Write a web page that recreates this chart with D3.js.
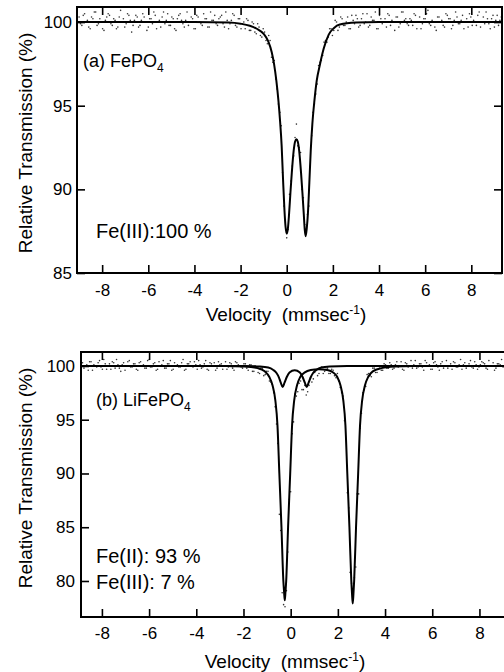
<!DOCTYPE html>
<html>
<head>
<meta charset="utf-8">
<script src="https://cdn.jsdelivr.net/npm/d3@7"></script>
<style>
  body { margin: 0; background: #fff; }
  svg { display: block; }
</style>
</head>
<body>
<script>
const FONT = '"Liberation Sans", Arial, sans-serif';

const X_TICKS = [-8, -6, -4, -2, 0, 2, 4, 6, 8];
const Y_TICKS_A = [85, 90, 95, 100];
const Y_TICKS_B = [80, 85, 90, 95, 100];

// velocity channels (mm/s) of the first sweep, shared by both spectra
const VELOCITY = [
  -9.00, -8.88, -8.76, -8.64, -8.52, -8.40, -8.28, -8.16, -8.04, -7.92,
  -7.80, -7.68, -7.56, -7.44, -7.32, -7.20, -7.08, -6.96, -6.84, -6.72,
  -6.60, -6.48, -6.36, -6.24, -6.12, -6.00, -5.88, -5.76, -5.64, -5.52,
  -5.40, -5.28, -5.16, -5.04, -4.92, -4.80, -4.68, -4.56, -4.44, -4.32,
  -4.20, -4.08, -3.96, -3.84, -3.72, -3.60, -3.48, -3.36, -3.24, -3.12,
  -3.00, -2.88, -2.76, -2.64, -2.52, -2.40, -2.28, -2.16, -2.04, -1.92,
  -1.80, -1.68, -1.56, -1.44, -1.32, -1.20, -1.08, -0.96, -0.84, -0.72,
  -0.60, -0.48, -0.36, -0.24, -0.12, 0.00, 0.12, 0.24, 0.36, 0.48,
  0.60, 0.72, 0.84, 0.96, 1.08, 1.20, 1.32, 1.44, 1.56, 1.68,
  1.80, 1.92, 2.04, 2.16, 2.28, 2.40, 2.52, 2.64, 2.76, 2.88,
  3.00, 3.12, 3.24, 3.36, 3.48, 3.60, 3.72, 3.84, 3.96, 4.08,
  4.20, 4.32, 4.44, 4.56, 4.68, 4.80, 4.92, 5.04, 5.16, 5.28,
  5.40, 5.52, 5.64, 5.76, 5.88, 6.00, 6.12, 6.24, 6.36, 6.48,
  6.60, 6.72, 6.84, 6.96, 7.08, 7.20, 7.32, 7.44, 7.56, 7.68,
  7.80, 7.92, 8.04, 8.16, 8.28, 8.40, 8.52, 8.64, 8.76, 8.88,
  9.00, 9.12, 9.24, 9.36
];

// velocity channels (mm/s) of the second sweep
const VELOCITY_2 = [
  -8.94, -8.82, -8.70, -8.58, -8.46, -8.34, -8.22, -8.10, -7.98, -7.86,
  -7.74, -7.62, -7.50, -7.38, -7.26, -7.14, -7.02, -6.90, -6.78, -6.66,
  -6.54, -6.42, -6.30, -6.18, -6.06, -5.94, -5.82, -5.70, -5.58, -5.46,
  -5.34, -5.22, -5.10, -4.98, -4.86, -4.74, -4.62, -4.50, -4.38, -4.26,
  -4.14, -4.02, -3.90, -3.78, -3.66, -3.54, -3.42, -3.30, -3.18, -3.06,
  -2.94, -2.82, -2.70, -2.58, -2.46, -2.34, -2.22, -2.10, -1.98, -1.86,
  -1.74, -1.62, -1.50, -1.38, -1.26, -1.14, -1.02, -0.90, -0.78, -0.66,
  -0.54, -0.42, -0.30, -0.18, -0.06, 0.06, 0.18, 0.30, 0.42, 0.54,
  0.66, 0.78, 0.90, 1.02, 1.14, 1.26, 1.38, 1.50, 1.62, 1.74,
  1.86, 1.98, 2.10, 2.22, 2.34, 2.46, 2.58, 2.70, 2.82, 2.94,
  3.06, 3.18, 3.30, 3.42, 3.54, 3.66, 3.78, 3.90, 4.02, 4.14,
  4.26, 4.38, 4.50, 4.62, 4.74, 4.86, 4.98, 5.10, 5.22, 5.34,
  5.46, 5.58, 5.70, 5.82, 5.94, 6.06, 6.18, 6.30, 6.42, 6.54,
  6.66, 6.78, 6.90, 7.02, 7.14, 7.26, 7.38, 7.50, 7.62, 7.74,
  7.86, 7.98, 8.10, 8.22, 8.34, 8.46, 8.58, 8.70, 8.82, 8.94,
  9.06, 9.18, 9.30, 9.42
];

// measured transmission (%), FePO4
const FEPO4_T = [
  100.3, 99.8, 100.5, 100.1, 99.6, 100.2, 100.6, 99.9, 100.0, 99.5,
  100.3, 100.4, 99.8, 100.1, 99.7, 100.7, 100.2, 99.9, 100.4, 99.4,
  100.1, 100.3, 99.8, 100.5, 100.0, 99.7, 100.2, 100.6, 99.6, 100.1,
  100.3, 99.9, 100.5, 99.8, 100.2, 99.5, 100.4, 100.1, 99.7, 100.6,
  100.0, 100.2, 99.6, 100.3, 99.9, 100.5, 100.2, 99.7, 100.1, 100.4,
  99.8, 100.3, 99.9, 100.6, 99.6, 100.1, 100.4, 99.7, 100.2, 99.9,
  99.6, 100.1, 99.5, 99.9, 99.3, 99.7, 99.1, 99.4, 98.7, 98.9,
  97.6, 96.6, 95.1, 93.8, 89.0, 87.1, 89.7, 91.4, 93.1, 92.6,
  92.2, 89.5, 87.5, 89.0, 93.2, 95.1, 96.3, 97.6, 98.0, 98.9,
  99.1, 99.6, 99.5, 100.0, 99.7, 100.2, 99.8, 100.3, 99.6, 100.1,
  100.4, 99.7, 100.2, 99.9, 100.5, 99.8, 100.1, 100.6, 99.6, 100.2,
  100.0, 99.7, 100.4, 100.1, 99.5, 100.3, 99.9, 100.6, 100.2, 99.8,
  100.1, 100.5, 99.6, 100.3, 99.9, 100.2, 100.7, 99.8, 100.0, 99.5,
  100.3, 100.1, 99.7, 100.4, 100.2, 99.8, 100.6, 99.9, 100.1, 99.6,
  100.2, 100.5, 99.8, 100.0, 100.4, 99.7, 100.3, 100.6, 99.9, 100.2,
  99.7, 100.4, 100.1, 99.8
];
const FEPO4_T2 = [
  99.9, 100.4, 100.0, 99.7, 100.3, 100.6, 99.8, 100.2, 99.6, 100.1,
  100.5, 99.9, 100.2, 99.6, 100.3, 100.0, 99.7, 100.5, 100.1, 99.8,
  100.4, 99.7, 100.1, 100.3, 99.5, 100.2, 99.9, 100.4, 100.0, 99.7,
  100.6, 100.1, 99.8, 100.3, 99.6, 100.2, 100.5, 99.9, 100.1, 99.8,
  100.3, 99.6, 100.4, 100.0, 99.8, 100.2, 99.7, 100.6, 100.1, 99.9,
  100.2, 100.4, 99.7, 100.1, 99.9, 100.5, 99.8, 100.2, 99.6, 100.0,
  100.2, 99.5, 100.0, 99.4, 99.9, 99.2, 99.6, 98.9, 99.2, 97.9,
  97.7, 96.0, 94.6, 91.0, 88.2, 87.6, 90.5, 92.0, 93.9, 92.5,
  90.0, 87.9, 88.5, 91.4, 94.6, 95.7, 97.4, 97.7, 98.8, 98.8,
  99.6, 99.2, 100.1, 99.5, 100.3, 99.8, 100.0, 99.6, 100.4, 99.9,
  100.2, 99.8, 100.5, 100.0, 99.7, 100.3, 100.1, 99.6, 100.4, 99.9,
  100.2, 100.5, 99.8, 100.0, 100.3, 99.7, 100.6, 100.1, 99.9, 100.2,
  99.8, 100.4, 100.0, 99.6, 100.2, 100.5, 99.9, 100.1, 99.7, 100.3,
  100.0, 99.8, 100.5, 100.2, 99.6, 100.1, 100.3, 99.9, 100.4, 100.0,
  99.7, 100.3, 100.1, 99.8, 100.6, 100.0, 99.9, 100.2, 99.6, 100.4,
  100.1, 99.8, 100.3, 100.0
];

// measured transmission (%), LiFePO4
const LIFEPO4_T = [
  100.2, 100.5, 99.8, 100.1, 100.4, 99.6, 100.0, 100.3, 99.9, 100.6,
  99.7, 100.2, 100.4, 99.8, 100.1, 99.5, 100.3, 100.0, 100.5, 99.9,
  100.2, 99.6, 100.4, 100.1, 99.8, 100.6, 99.9, 100.3, 99.7, 100.0,
  100.5, 99.8, 100.2, 99.6, 100.3, 100.1, 99.9, 100.6, 99.7, 100.2,
  100.0, 100.4, 99.7, 100.1, 99.9, 100.5, 99.6, 100.2, 100.3, 99.8,
  100.1, 99.7, 100.4, 99.9, 100.2, 99.6, 100.3, 100.0, 99.8, 100.2,
  99.6, 100.1, 99.5, 99.9, 99.3, 99.8, 99.2, 99.5, 98.5, 97.5,
  94.6, 86.2, 78.9, 77.6, 82.7, 88.3, 94.8, 97.2, 98.4, 97.8,
  98.2, 97.6, 98.9, 98.8, 99.6, 99.3, 99.9, 99.5, 99.8, 99.3,
  99.6, 98.9, 98.6, 97.5, 94.9, 88.2, 80.8, 78.3, 81.3, 88.1,
  95.6, 97.8, 99.2, 99.1, 99.8, 99.4, 100.0, 99.6, 100.2, 99.8,
  100.3, 99.7, 100.1, 99.9, 100.4, 99.6, 100.2, 100.0, 99.8, 100.5,
  99.9, 100.2, 99.6, 100.3, 100.1, 99.7, 100.4, 99.9, 100.2, 99.8,
  100.5, 100.0, 99.7, 100.3, 99.9, 100.6, 100.1, 99.8, 100.2, 99.9,
  100.4, 99.7, 100.1, 100.3, 99.8, 100.5, 100.0, 99.6, 100.2, 100.1,
  99.9, 100.3, 100.0, 99.7
];
const LIFEPO4_T2 = [
  99.8, 100.3, 100.0, 99.6, 100.4, 100.1, 99.9, 100.5, 99.7, 100.2,
  100.0, 99.7, 100.3, 100.6, 99.8, 100.1, 99.6, 100.4, 99.9, 100.2,
  99.7, 100.3, 100.0, 99.8, 100.5, 99.9, 100.2, 99.6, 100.4, 100.1,
  99.8, 100.2, 100.5, 99.7, 100.0, 99.9, 100.3, 99.6, 100.2, 100.4,
  99.9, 100.1, 100.5, 99.8, 100.2, 99.7, 100.3, 100.0, 99.6, 100.4,
  100.2, 100.0, 99.7, 100.3, 99.8, 100.4, 100.1, 99.9, 100.2, 99.8,
  100.1, 99.5, 100.0, 99.4, 99.8, 99.1, 99.5, 98.6, 98.3, 96.2,
  92.8, 84.7, 77.8, 79.1, 87.6, 93.7, 97.4, 97.6, 98.6, 97.8,
  97.3, 98.2, 98.5, 99.4, 99.1, 99.8, 99.3, 99.7, 99.3, 99.7,
  99.1, 99.3, 98.0, 97.2, 93.2, 86.8, 79.8, 80.3, 88.1, 94.2,
  97.5, 98.1, 99.3, 99.0, 99.8, 99.4, 99.9, 99.6, 100.1, 99.8,
  100.1, 99.8, 100.4, 100.0, 99.7, 100.3, 99.9, 100.5, 100.1, 99.8,
  100.2, 99.9, 100.5, 100.0, 99.7, 100.3, 100.1, 99.6, 100.4, 100.0,
  99.8, 100.2, 100.4, 99.9, 100.1, 99.7, 100.3, 100.0, 100.5, 99.8,
  100.1, 99.9, 100.4, 100.2, 99.7, 100.0, 100.3, 99.8, 100.2, 100.6,
  99.9, 100.2, 99.7, 100.1
];

// fitted Fe(III) doublet of FePO4
const FEPO4_FIT_V = [-9.1, -4, -2.5, -2.0, -1.6, -1.3, -1.0, -0.8, -0.65, -0.55, -0.45, -0.36, -0.29, -0.22, -0.16, -0.1, -0.05, 0,
  0.05, 0.1, 0.16, 0.22, 0.3, 0.36, 0.42, 0.48, 0.54, 0.62, 0.68, 0.74, 0.78, 0.82, 0.87, 0.92, 0.98, 1.04, 1.11,
  1.2, 1.3, 1.43, 1.6, 1.82, 2.05, 2.3, 3, 4, 9.4];
const FEPO4_FIT_T = [100, 100, 99.97, 99.9, 99.78, 99.6, 99.3, 98.85, 98.2, 97.5, 96.5, 95.3, 94.1, 92.6, 90.6, 88.8, 87.75, 87.35,
  87.65, 88.5, 89.8, 91.0, 92.3, 92.85, 93.0, 92.85, 92.3, 91.0, 89.8, 88.5, 87.6, 87.2, 87.7, 88.6, 90.4, 92.3, 93.9,
  95.3, 96.5, 97.4, 98.4, 99.25, 99.65, 99.85, 99.97, 100, 100];

// fitted Fe(II) doublet of LiFePO4
const LIFEPO4_FE2_V = [-8.9, -3, -2.5, -1.95, -1.4, -1.1, -0.91, -0.77, -0.65, -0.56, -0.48, -0.39, -0.31, -0.28, -0.25,
  -0.22, -0.19, -0.11, -0.02, 0.06, 0.15, 0.27, 0.41, 0.6, 0.85, 1.19, 1.55, 1.8, 1.97, 2.11, 2.23, 2.32, 2.40,
  2.49, 2.57, 2.60, 2.63, 2.66, 2.69, 2.77, 2.86, 2.94, 3.03, 3.15, 3.29, 3.48, 3.85, 4.4, 5.2, 9.5];
const LIFEPO4_FE2_T = [100, 100, 99.98, 99.95, 99.8, 99.5, 99.0, 98.2, 96.8, 94.5, 90, 85, 80, 79.0, 78.2,
  79.0, 80, 85, 90, 94.5, 96.8, 98.2, 99.0, 99.4, 99.62, 99.7, 99.62, 99.4, 99.0, 98.2, 96.8, 94.5, 90,
  85, 80, 78.8, 77.9, 78.8, 80, 85, 90, 94.5, 96.8, 98.2, 99.0, 99.5, 99.8, 99.95, 100, 100];

// fitted Fe(III) doublet of LiFePO4
const LIFEPO4_FE3_V = [-8.9, -2, -1.3, -0.95, -0.75, -0.6, -0.5, -0.42, -0.34, -0.26, -0.17, -0.05, 0.17, 0.39, 0.51,
  0.6, 0.68, 0.76, 0.85, 0.95, 1.1, 1.3, 1.65, 2.4, 9.5];
const LIFEPO4_FE3_T = [100, 100, 99.95, 99.85, 99.65, 99.35, 98.95, 98.45, 98.05, 98.45, 98.95, 99.4, 99.6, 99.4, 98.95,
  98.45, 98.05, 98.45, 98.95, 99.35, 99.65, 99.85, 99.95, 100, 100];

const svg = d3.select('body').append('svg')
    .attr('width', 504)
    .attr('height', 672);

function renderPanel(cfg, id) {
  const x = d3.scaleLinear().domain(cfg.xDomain).range([cfg.left, cfg.right]);
  const y = d3.scaleLinear().domain(cfg.yDomain).range([cfg.bottom, cfg.top]);
  const g = svg.append('g');

  g.append('clipPath')
      .attr('id', id)
    .append('rect')
      .attr('x', cfg.left)
      .attr('y', cfg.top)
      .attr('width', cfg.right - cfg.left)
      .attr('height', cfg.bottom - cfg.top);

  const plot = g.append('g').attr('clip-path', `url(#${id})`);

  // measured points (two sweeps)
  const points = d3.zip(VELOCITY, cfg.counts).concat(d3.zip(VELOCITY_2, cfg.counts2));
  plot.append('g')
      .attr('fill', '#333')
    .selectAll('circle')
    .data(points)
    .enter().append('circle')
      .attr('cx', d => x(d[0]))
      .attr('cy', d => y(d[1]))
      .attr('r', 0.8);

  // fitted sub-spectra
  const line = d3.line()
      .x(d => x(d[0]))
      .y(d => y(d[1]))
      .curve(d3.curveMonotoneX);

  cfg.fits.forEach(f => {
    plot.append('path')
        .datum(d3.zip(f[0], f[1]))
        .attr('fill', 'none')
        .attr('stroke', '#000')
        .attr('stroke-width', 2)
        .attr('d', line);
  });

  const styleAxis = a => {
    a.select('.domain').remove();
    a.attr('font-family', FONT).attr('font-size', 17);
    a.selectAll('.tick line').attr('stroke-width', 1.6);
  };

  g.append('g')
      .attr('transform', `translate(0,${cfg.bottom})`)
      .call(d3.axisBottom(x).tickValues(X_TICKS).tickSize(-8).tickSizeOuter(0)
        .tickPadding(cfg.xPad).tickFormat(d => String(d)))
      .call(styleAxis);

  g.append('g')
      .attr('transform', `translate(0,${cfg.top})`)
      .call(d3.axisTop(x).tickValues(X_TICKS).tickSize(-8).tickSizeOuter(0).tickFormat(''))
      .call(styleAxis);

  g.append('g')
      .attr('transform', `translate(${cfg.left},0)`)
      .call(d3.axisLeft(y).tickValues(cfg.yTicks).tickSize(-8).tickSizeOuter(0)
        .tickPadding(cfg.yPad).tickFormat(d => String(d)))
      .call(styleAxis);

  g.append('g')
      .attr('transform', `translate(${cfg.right},0)`)
      .call(d3.axisRight(y).tickValues(cfg.yTicks).tickSize(-8).tickSizeOuter(0).tickFormat(''))
      .call(styleAxis);

  // frame
  g.append('rect')
      .attr('x', cfg.left)
      .attr('y', cfg.top)
      .attr('width', cfg.right - cfg.left)
      .attr('height', cfg.bottom - cfg.top)
      .attr('fill', 'none')
      .attr('stroke', '#000')
      .attr('stroke-width', 2);

  // axis titles
  const xt = g.append('text')
      .attr('x', cfg.xTitle[0])
      .attr('y', cfg.xTitle[1])
      .attr('text-anchor', 'middle')
      .attr('font-family', FONT)
      .attr('font-size', 19)
      .text('Velocity\u00a0 (mmsec');
  xt.append('tspan').attr('font-size', 12).attr('dy', -7).text('-1');
  xt.append('tspan').attr('dy', 7).text(')');

  g.append('text')
      .attr('transform', `translate(${cfg.yTitle[0]},${cfg.yTitle[1]})rotate(-90)`)
      .attr('text-anchor', 'middle')
      .attr('font-family', FONT)
      .attr('font-size', 19)
      .text('Relative Transmission (%)');

  // annotations
  const name = g.append('text')
      .attr('x', cfg.name.x)
      .attr('y', cfg.name.y)
      .attr('font-family', FONT)
      .attr('font-size', 18)
      .text(cfg.name.text);
  name.append('tspan').attr('font-size', 12).attr('dy', 5).text('4');

  cfg.notes.forEach(n => {
    g.append('text')
        .attr('x', n.x)
        .attr('y', n.y)
        .attr('font-family', FONT)
        .attr('font-size', 20)
        .text(n.text);
  });
}

renderPanel({
  left: 77, right: 502, top: 7, bottom: 273,
  xDomain: [-9.09, 9.33], yDomain: [85, 100.9],
  yTicks: Y_TICKS_A, xPad: 11, yPad: 5,
  counts: FEPO4_T, counts2: FEPO4_T2,
  fits: [[FEPO4_FIT_V, FEPO4_FIT_T]],
  xTitle: [286, 321], yTitle: [32, 143],
  name: { x: 83, y: 67, text: '(a) FePO' },
  notes: [{ x: 96, y: 238, text: 'Fe(III):100 %' }]
}, 'clipA');

renderPanel({
  left: 81, right: 512, top: 352, bottom: 617,
  xDomain: [-8.886, 9.38], yDomain: [76.65, 101.3],
  yTicks: Y_TICKS_B, xPad: 10, yPad: 6,
  counts: LIFEPO4_T, counts2: LIFEPO4_T2,
  fits: [[LIFEPO4_FE2_V, LIFEPO4_FE2_T], [LIFEPO4_FE3_V, LIFEPO4_FE3_T]],
  xTitle: [285, 668], yTitle: [32, 478],
  name: { x: 96, y: 406, text: '(b) LiFePO' },
  notes: [
    { x: 96, y: 563, text: 'Fe(II): 93 %' },
    { x: 96, y: 589, text: 'Fe(III): 7 %' }
  ]
}, 'clipB');
</script>
</body>
</html>
